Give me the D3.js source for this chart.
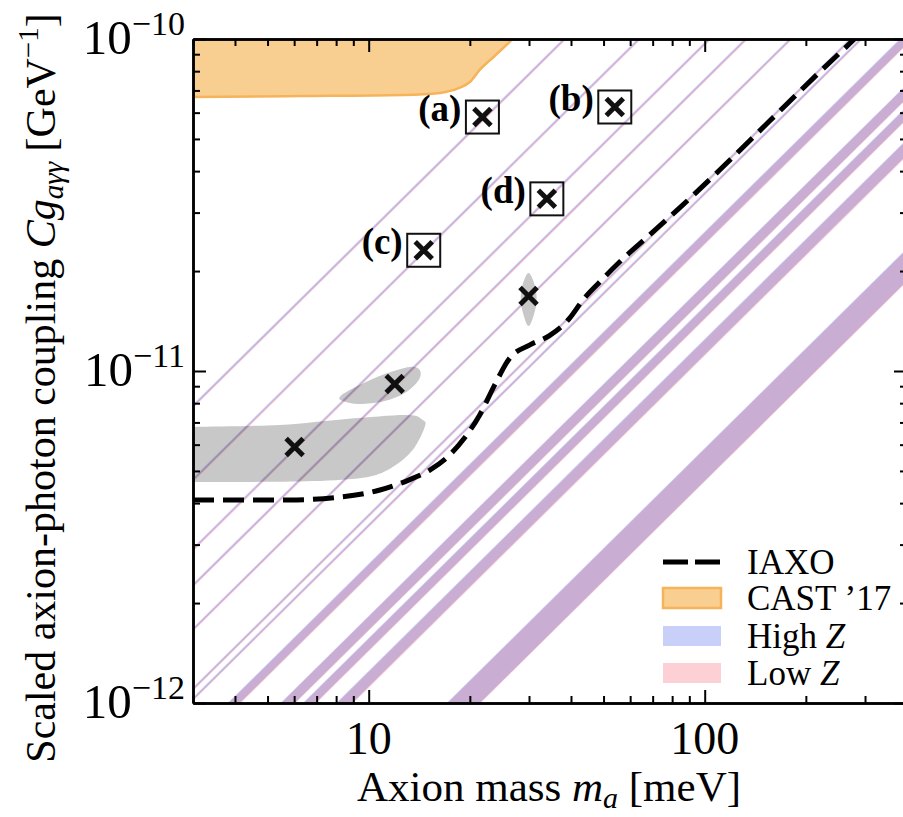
<!DOCTYPE html>
<html lang="en">
<head>
<meta charset="UTF-8">
<title>Axion-photon coupling vs axion mass</title>
<script src="https://d3js.org/d3.v7.min.js"></script>
<style>
    body { margin: 0; background: #fff; }
    svg text { font-family: "Liberation Serif", "DejaVu Serif", serif; fill: #000; }
</style>
</head>
<body>
<svg id="chart" width="903" height="817"></svg>
<script>
// axis ranges and ticks
var massRange = [3, 400];              // meV
var couplingRange = [1e-12, 1e-10];    // GeV^-1
var massTicks = [10, 100];
var couplingTicks = [1e-12, 1e-11, 1e-10];

// IAXO sensitivity, [m_a (meV), C g (GeV^-1)]
var iaxo = [
    [3.0, 4.09e-12], [5.8, 4.09e-12], [8.2, 4.17e-12], [10.8, 4.38e-12],
    [13.2, 4.70e-12], [15.2, 5.03e-12], [17.4, 5.58e-12], [19.3, 6.29e-12],
    [21.4, 7.37e-12], [23.7, 9.07e-12], [26.3, 1.094e-11], [30.1, 1.197e-11],
    [34.6, 1.28e-11], [39.7, 1.445e-11], [43.4, 1.636e-11], [48.7, 1.854e-11],
    [55.8, 2.13e-11], [68.6, 2.57e-11], [84.2, 3.10e-11], [110.8, 4.03e-11],
    [156, 5.66e-11], [220, 7.96e-11], [279, 1.0e-10], [332, 1.19e-10]
];

// CAST '17 limit (lower edge of excluded region)
var cast17 = [
    [2.0, 66.8e-12], [3.0, 66.9e-12], [6.23, 67.3e-12], [12.7, 67.8e-12],
    [16.3, 68.8e-12], [18.6, 71.2e-12], [20.0, 74.2e-12], [21.4, 80.7e-12],
    [23.7, 88.9e-12], [26.8, 100e-12], [30.1, 114e-12]
];

// model bands: C g / m_a in 1e-12 GeV^-1 per meV, [upper edge, lower edge]
var highZ = [
    [2.646, 2.594], [1.587, 1.556], [0.980, 0.961], [0.763, 0.748],
    [0.562, 0.551], [0.372, 0.365], [0.347, 0.340],
    [0.263, 0.242], [0.183, 0.166], [0.157, 0.144], [0.125, 0.112],
    [0.0586, 0.0467]
];
var lowZ = [
    [2.625, 2.574], [1.574, 1.544], [0.972, 0.953], [0.757, 0.742],
    [0.558, 0.547], [0.369, 0.362], [0.344, 0.338],
    [0.261, 0.240], [0.182, 0.165], [0.156, 0.143], [0.124, 0.111],
    [0.0582, 0.0464]
];

// fitted regions (grey), outlines in [m_a, C g]
var fitRegions = [
    [[2.5, 6.75e-12], [3.0, 6.78e-12], [5.43, 6.88e-12], [8.60, 7.17e-12], [12.97, 7.37e-12],
     [14.48, 7.12e-12], [14.68, 6.78e-12], [13.52, 5.78e-12], [11.79, 5.14e-12], [9.86, 4.79e-12],
     [6.81, 4.66e-12], [4.33, 4.63e-12], [3.0, 4.63e-12], [2.5, 4.63e-12]],
    [[8.25, 8.41e-12], [9.40, 9.07e-12], [11.16, 9.79e-12], [13.24, 10.28e-12], [14.19, 10.07e-12],
     [14.09, 9.40e-12], [12.80, 8.58e-12], [11.16, 8.12e-12], [9.40, 7.95e-12], [8.37, 8.12e-12]],
    [[29.9, 19.73e-12], [31.2, 18.16e-12], [31.6, 16.36e-12], [31.0, 14.75e-12], [29.9, 13.66e-12],
     [28.9, 14.75e-12], [28.35, 16.36e-12], [28.7, 18.16e-12]]
];
var bestFits = [[6.02, 5.90e-12], [11.95, 9.14e-12], [29.9, 16.82e-12]];

// benchmark points
var benchmarkLabels = ["(a)", "(b)", "(c)", "(d)"];
var benchmarkMass = [21.8, 54.0, 14.58, 33.9];
var benchmarkCoupling = [5.82e-11, 6.24e-11, 2.31e-11, 3.30e-11];

var legendLabels = ["IAXO", "CAST \u201917", "High ", "Low "];

var plotLeft = 193, plotRight = 907, plotTop = 39, plotBottom = 703;

var x = d3.scaleLog().domain(massRange).range([plotLeft, plotRight]);
var y = d3.scaleLog().domain(couplingRange).range([plotBottom, plotTop]);

var svg = d3.select("#chart");

svg.append("defs").append("clipPath").attr("id", "plot-clip")
    .append("rect")
    .attr("x", plotLeft).attr("y", plotTop)
    .attr("width", plotRight - plotLeft).attr("height", plotBottom - plotTop);

var plot = svg.append("g").attr("clip-path", "url(#plot-clip)");

var line = d3.line().x(function(d) { return x(d[0]); }).y(function(d) { return y(d[1]); });
var smooth = d3.line().x(function(d) { return x(d[0]); }).y(function(d) { return y(d[1]); }).curve(d3.curveMonotoneX);

// CAST region
var castArea = cast17.concat([[30.1, 1e-9], [2.0, 1e-9]]);
plot.append("path")
    .attr("d", line(castArea) + "Z")
    .attr("fill", "#f9cf91")
    .attr("stroke", "none");
plot.append("path")
    .attr("d", smooth(cast17))
    .attr("fill", "none")
    .attr("stroke", "#f7b35a")
    .attr("stroke-width", 2.5);

// grey fit regions
plot.selectAll(".fit")
    .data(fitRegions)
    .enter().append("path")
    .attr("class", "fit")
    .attr("d", d3.line().x(function(d) { return x(d[0]); }).y(function(d) { return y(d[1]); }).curve(d3.curveCardinalClosed))
    .attr("fill", "#c8c8c8");

// crosses
function crossPath(px, py, s) {
    return "M" + (px - s) + "," + (py - s) + "L" + (px + s) + "," + (py + s) +
           "M" + (px - s) + "," + (py + s) + "L" + (px + s) + "," + (py - s);
}

plot.selectAll(".bestfit")
    .data(bestFits)
    .enter().append("path")
    .attr("class", "bestfit")
    .attr("d", function(d) { return crossPath(x(d[0]), y(d[1]), 8.5); })
    .attr("stroke", "#111")
    .attr("stroke-width", 5);

plot.selectAll(".bench")
    .data(benchmarkMass)
    .enter().append("path")
    .attr("class", "bench")
    .attr("d", function(d, i) { return crossPath(x(d), y(benchmarkCoupling[i]), 8.5); })
    .attr("stroke", "#111")
    .attr("stroke-width", 5);

plot.selectAll(".bench-box")
    .data(benchmarkMass)
    .enter().append("rect")
    .attr("class", "bench-box")
    .attr("x", function(d) { return x(d) - 16.5; })
    .attr("y", function(d, i) { return y(benchmarkCoupling[i]) - 16.5; })
    .attr("width", 33).attr("height", 33)
    .attr("fill", "none")
    .attr("stroke", "#111")
    .attr("stroke-width", 2);

// model bands
function bandPoints(r) {
    var m0 = 1, m1 = 1000;
    return [[m0, r[0] * m0 * 1e-12], [m1, r[0] * m1 * 1e-12],
            [m1, r[1] * m1 * 1e-12], [m0, r[1] * m0 * 1e-12]];
}

plot.append("g").selectAll("path")
    .data(highZ)
    .enter().append("path")
    .attr("d", function(d) { return line(bandPoints(d)) + "Z"; })
    .attr("fill", "#cbd2fa")
    .style("mix-blend-mode", "multiply");

plot.append("g").selectAll("path")
    .data(lowZ)
    .enter().append("path")
    .attr("d", function(d) { return line(bandPoints(d)) + "Z"; })
    .attr("fill", "#fdd2d8")
    .style("mix-blend-mode", "multiply");

// IAXO
plot.append("path")
    .attr("d", smooth(iaxo))
    .attr("fill", "none")
    .attr("stroke", "#000")
    .attr("stroke-width", 5)
    .attr("stroke-dasharray", "21,9");

// benchmark labels
svg.selectAll(".bench-label")
    .data(benchmarkLabels)
    .enter().append("text")
    .attr("class", "bench-label")
    .attr("x", function(d, i) { return x(benchmarkMass[i]) - 21; })
    .attr("y", function(d, i) { return y(benchmarkCoupling[i]) + 4; })
    .attr("text-anchor", "end")
    .attr("font-weight", "bold")
    .attr("font-size", 37)
    .text(function(d) { return d; });

// axes
var minorX = x.ticks().filter(function(t) { return massTicks.indexOf(t) < 0; });
var minorY = y.ticks().filter(function(t) { return couplingTicks.map(String).indexOf(String(t)) < 0; });

function styleAxis(g) {
    g.select(".domain").attr("stroke-width", 2.5);
    g.selectAll(".tick line").attr("stroke-width", 2);
    g.selectAll("text").remove();
}

function addAxis(axisFn, scale, pos, values, len) {
    var isX = (axisFn === d3.axisBottom || axisFn === d3.axisTop);
    svg.append("g")
        .attr("transform", isX ? "translate(0," + pos + ")" : "translate(" + pos + ",0)")
        .call(axisFn(scale).tickValues(values).tickSize(-len).tickSizeOuter(0))
        .call(styleAxis);
}

addAxis(d3.axisBottom, x, plotBottom, minorX, 7);
addAxis(d3.axisBottom, x, plotBottom, massTicks, 13);
addAxis(d3.axisTop, x, plotTop, minorX, 7);
addAxis(d3.axisTop, x, plotTop, massTicks, 13);
addAxis(d3.axisLeft, y, plotLeft, minorY, 7);
addAxis(d3.axisLeft, y, plotLeft, couplingTicks, 13);
addAxis(d3.axisRight, y, plotRight, minorY, 7);
addAxis(d3.axisRight, y, plotRight, couplingTicks, 13);

// tick labels
svg.selectAll(".xlab")
    .data(massTicks)
    .enter().append("text")
    .attr("class", "xlab")
    .attr("x", function(d) { return x(d); })
    .attr("y", plotBottom + 51)
    .attr("text-anchor", "middle")
    .attr("font-size", 46)
    .text(function(d) { return d; });

var ylab = svg.selectAll(".ylab")
    .data(couplingTicks)
    .enter().append("text")
    .attr("class", "ylab")
    .attr("x", plotLeft - 8)
    .attr("y", function(d) { return y(d) + 15; })
    .attr("text-anchor", "end")
    .attr("font-size", 49);
ylab.append("tspan").text("10");
ylab.append("tspan")
    .attr("dy", -19)
    .attr("font-size", 34)
    .text(function(d) { return "\u2212" + Math.round(-Math.log10(d)); });

// axis titles
var xt = svg.append("text")
    .attr("x", 549).attr("y", 801)
    .attr("text-anchor", "middle")
    .attr("font-size", 43);
xt.append("tspan").text("Axion mass ");
xt.append("tspan").attr("font-style", "italic").text("m");
xt.append("tspan").attr("font-style", "italic").attr("font-size", 30).attr("dy", 7).text("a");
xt.append("tspan").attr("dy", -7).text(" [meV]");

var yt = svg.append("text")
    .attr("transform", "translate(55,388) rotate(-90)")
    .attr("text-anchor", "middle")
    .attr("font-size", 42);
yt.append("tspan").text("Scaled axion-photon coupling ");
yt.append("tspan").attr("font-style", "italic").text("Cg");
yt.append("tspan").attr("font-style", "italic").attr("font-size", 29).attr("dy", 8).text("a\u03b3\u03b3");
yt.append("tspan").attr("dy", -8).text(" [GeV");
yt.append("tspan").attr("font-size", 29).attr("dy", -17).text("\u22121");
yt.append("tspan").attr("dy", 17).text("]");

// legend
var legendY = [562, 598, 636, 673];
var lg = svg.append("g");
lg.append("line")
    .attr("x1", 663).attr("x2", 721)
    .attr("y1", legendY[0]).attr("y2", legendY[0])
    .attr("stroke", "#000").attr("stroke-width", 5)
    .attr("stroke-dasharray", "25,7");
lg.append("rect")
    .attr("x", 663).attr("y", legendY[1] - 10).attr("width", 58).attr("height", 20)
    .attr("fill", "#f9cf91").attr("stroke", "#f7b35a").attr("stroke-width", 2.5);
lg.append("rect")
    .attr("x", 663).attr("y", legendY[2] - 10).attr("width", 58).attr("height", 20)
    .attr("fill", "#c8d0fa");
lg.append("rect")
    .attr("x", 663).attr("y", legendY[3] - 10).attr("width", 58).attr("height", 20)
    .attr("fill", "#fdd0d5");

var lt = lg.selectAll(".leg-text")
    .data(legendLabels)
    .enter().append("text")
    .attr("class", "leg-text")
    .attr("x", 747)
    .attr("y", function(d, i) { return legendY[i] + 12; })
    .attr("font-size", 35);
lt.append("tspan").text(function(d) { return d; });
lt.filter(function(d, i) { return i >= 2; })
    .append("tspan").attr("font-style", "italic").text("Z");
</script>
</body>
</html>
